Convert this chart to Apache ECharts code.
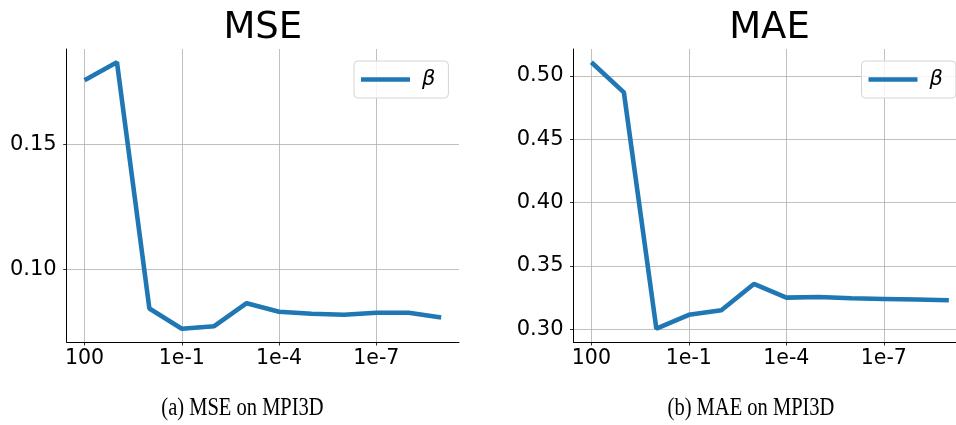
<!DOCTYPE html>
<html>
<head>
<meta charset="utf-8">
<script src="https://cdn.jsdelivr.net/npm/echarts@6/dist/echarts.min.js"></script>
<style>html,body{margin:0;padding:0;background:#fff}#c{width:956px;height:425px}</style>
</head>
<body>
<div id="c"></div>
<script>
const categories = ['100','10','1','1e-1','1e-2','1e-3','1e-4','1e-5','1e-6','1e-7','1e-8','1e-9'];
const mseValues = [0.1756,0.1828,0.0845,0.0764,0.0774,0.0866,0.0832,0.0824,0.0820,0.0828,0.0828,0.0809];
const maeValues = [0.5108,0.4871,0.3005,0.3115,0.3150,0.3358,0.3250,0.3255,0.3245,0.3240,0.3235,0.3229];
const xTickIndex = [0,3,6,9];
const mseTicks = [0.10,0.15];
const maeTicks = [0.30,0.35,0.40,0.45,0.50];
const titles = ['MSE','MAE'];
const captions = ['(a) MSE on MPI3D','(b) MAE on MPI3D'];
const seriesName = 'β';

const FONT = 'DejaVu Sans';
const BLUE = '#1f77b4';

function xAxis(gi, mx){
  return {
    type:'value', gridIndex:gi, min:-0.55, max:mx,
    axisLine:{show:true, onZero:false, lineStyle:{color:'#000', width:1}},
    axisTick:{show:true, length:3.5, lineStyle:{color:'#000', width:0.8}, customValues:xTickIndex},
    axisLabel:{customValues:xTickIndex, formatter:v=>categories[Math.round(v)], color:'#000', fontFamily:FONT, fontSize:20.5, margin:6},
    splitLine:{show:true, lineStyle:{color:'#b0b0b0', width:0.8}}
  };
}
function yAxis(gi, mn, mx, ticks){
  return {
    type:'value', gridIndex:gi, min:mn, max:mx,
    axisLine:{show:true, onZero:false, lineStyle:{color:'#000', width:1}},
    axisTick:{show:true, length:3.5, lineStyle:{color:'#000', width:0.8}, customValues:ticks},
    axisLabel:{customValues:ticks, formatter:v=>v.toFixed(2), color:'#000', fontFamily:FONT, fontSize:21, margin:10},
    splitLine:{show:true, lineStyle:{color:'#b0b0b0', width:0.8}}
  };
}
function legend(left){
  return {
    left:left, top:61, orient:'vertical',
    data:[{name:seriesName, icon:'rect'}],
    itemWidth:49, itemHeight:4.5, itemGap:0,
    padding:[8,13,8,7],
    backgroundColor:'rgba(255,255,255,0.8)', borderColor:'#d5d5d5', borderWidth:1, borderRadius:4,
    textStyle:{fontFamily:FONT, fontSize:21, fontStyle:'italic', color:'#000', padding:[0,0,0,7]},
    selectedMode:false
  };
}

const chart = echarts.init(document.getElementById('c'), null, {renderer:'canvas'});
chart.setOption({
  animation:false,
  backgroundColor:'#fff',
  grid:[
    {left:66.7, right:497, top:49, bottom:83, containLabel:false},
    {left:573.5, right:0, top:49, bottom:83, containLabel:false}
  ],
  xAxis:[xAxis(0, 11.55), xAxis(1, 11.22)],
  yAxis:[yAxis(0,0.0711,0.1881,mseTicks), yAxis(1,0.2900,0.5213,maeTicks)],
  legend:[legend(354), legend(861.5)],
  series:[
    {name:seriesName, type:'line', xAxisIndex:0, yAxisIndex:0, showSymbol:false, symbol:'none',
     lineStyle:{color:BLUE, width:4.6}, itemStyle:{color:BLUE},
     data:mseValues.map((v,i)=>[i,v])},
    {name:seriesName, type:'line', xAxisIndex:1, yAxisIndex:1, showSymbol:false, symbol:'none',
     lineStyle:{color:BLUE, width:4.6}, itemStyle:{color:BLUE},
     data:maeValues.map((v,i)=>[i,v])}
  ],
  graphic:[
    {type:'text', x:262.8, y:28, style:{text:titles[0], font:'37px "DejaVu Sans"', fill:'#000', textAlign:'center', textVerticalAlign:'middle'}},
    {type:'text', x:769.5, y:28, style:{text:titles[1], font:'37px "DejaVu Sans"', fill:'#000', textAlign:'center', textVerticalAlign:'middle'}},
    {type:'text', x:242.5, y:408, scaleX:0.82, style:{text:captions[0], font:'25px "Liberation Serif"', fill:'#000', textAlign:'center', textVerticalAlign:'middle'}},
    {type:'text', x:751, y:408, scaleX:0.82, style:{text:captions[1], font:'25px "Liberation Serif"', fill:'#000', textAlign:'center', textVerticalAlign:'middle'}}
  ]
});
</script>
</body>
</html>
